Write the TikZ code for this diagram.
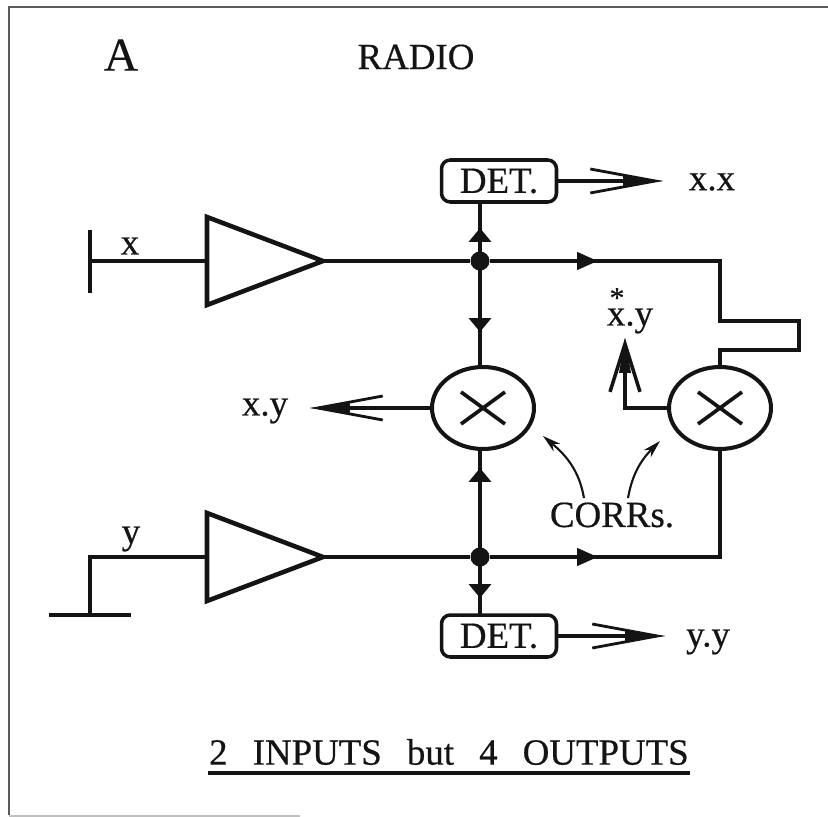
\documentclass[tikz,border=0pt]{standalone}
\usepackage{fontspec}
\setmainfont{Liberation Serif}[FakeBold=0.35]
\usetikzlibrary{arrows.meta,shapes.geometric}
\definecolor{scanInk}{HTML}{141414}
\definecolor{scanFrame}{HTML}{5A5A5A}
\tikzset{
  radio diagram/.style={x=0.02cm,y=-0.02cm,font=\fontsize{21}{25}\selectfont\addfontfeature{FakeBold=0.5},
    text=scanInk,draw=scanInk,line join=miter},
  radio wire/.style={draw=scanInk,line width=2.5pt},
  radio thin/.style={draw=scanInk,line width=2.1pt},
  radio frame/.style={draw=scanFrame,line width=1.4pt},
  radio amp/.style={isosceles triangle,isosceles triangle stretches,draw=scanInk,
    line width=2.6pt,minimum width=1.76cm,minimum height=2.32cm,inner sep=0pt,outer sep=0pt},
  radio corr/.style={ellipse,draw=scanInk,line width=2.3pt,minimum width=2.04cm,
    minimum height=1.64cm,inner sep=0pt,outer sep=0pt},
  radio det/.style={draw=scanInk,line width=2pt,rounded corners=5pt,minimum width=2.3cm,
    minimum height=0.84cm,inner sep=0pt,outer sep=0pt},
  radio dot/.style={circle,fill=scanInk,minimum size=0.38cm,inner sep=0pt},
  radio label/.style={inner sep=0pt},
  radio solid/.style={radio wire,-{Triangle[length=0.28cm,width=0.44cm,sep=0pt]}},
  radio solid long/.style={radio wire,-{Triangle[length=0.42cm,width=0.34cm,sep=0pt]}},
  radio open/.style={radio thin,-{Straight Barb[length=1.3cm,width=0.48cm,line width=1.6pt,sep=-0.8cm]
    Triangle[length=0.8cm,width=0.2cm,line width=0pt]}},
  radio open short/.style={radio wire,-{Straight Barb[length=0.96cm,width=0.6cm,line width=2pt,sep=-0.7cm]
    Triangle[length=0.7cm,width=0.24cm,line width=0pt]}},
  radio note/.style={draw=scanInk,line width=1.2pt,-{Stealth[length=0.36cm,width=0.2cm]}}
}
\begin{document}
\begin{tikzpicture}[radio diagram]
\useasboundingbox (0,0) rectangle (828,817);
% frame, cut off on the right
\draw[radio frame] (828,7) -- (9,7) -- (9,815);
\draw[draw=black!25,line width=1pt] (9,816) -- (300,816);
\node[radio label,font=\fontsize{27}{30}\selectfont\addfontfeature{FakeBold=0.35}] (mainA) at (121,55) {A};
\node[radio label] (mainRadio) at (416,57) {RADIO};
% front ends
\node[radio amp,anchor=apex] (ampX) at (323,261) {};
\node[radio amp,anchor=apex] (ampY) at (323,557) {};
\coordinate (aerialX) at (90,261);
\coordinate (aerialXtop) at (90,230);
\coordinate (aerialXbot) at (90,293);
\coordinate (aerialY) at (90,557);
\coordinate (groundY) at (90,615);
\coordinate (groundYl) at (49,615);
\coordinate (groundYr) at (131,615);
\draw[radio wire] (aerialXtop) -- (aerialXbot);
\draw[radio wire] (aerialX) -- (ampX.west);
\draw[radio wire] (ampY.west) -- (aerialY) -- (groundY);
\draw[radio wire] (groundYl) -- (groundYr);
\node[radio label] (labelX) at (130,246) {x};
\node[radio label] (labelY) at (131,539) {y};
% junctions, detectors, correlators
\node[radio dot] (jointX) at (480,261) {};
\node[radio dot] (jointY) at (480,557) {};
\node[radio det] (detX) at (499,181) {DET.};
\node[radio det] (detY) at (499,636) {DET.};
\node[radio corr] (corrL) at (483,408) {};
\node[radio corr] (corrR) at (720,408) {};
\foreach \c in {corrL,corrR} {
  \draw[radio thin] (\c.center) +(-22,-16) -- +(22,16);
  \draw[radio thin] (\c.center) +(-22,16) -- +(22,-16);
}
\coordinate (detXfoot) at (480,201);
\coordinate (detYhead) at (480,616);
\coordinate (corrLtop) at (480,367);
\coordinate (corrLbot) at (480,449);
\coordinate (tipXup) at (480,228);
\coordinate (tipXdown) at (480,332);
\coordinate (tipYup) at (480,468);
\coordinate (tipYdown) at (480,598);
\coordinate (tipXright) at (598,261);
\coordinate (tipYright) at (598,557);
\draw[radio wire] (ampX.apex) -- (jointX) -- (720,261) -- (720,321) -- (799,321) -- (799,350)
  -- (720,350) -- (corrR.north);
\draw[radio wire] (ampY.apex) -- (jointY) -- (720,557) -- (corrR.south);
\draw[radio wire] (detXfoot) -- (corrLtop);
\draw[radio wire] (corrLbot) -- (detYhead);
\draw[radio solid] (jointX) -- (tipXup);
\draw[radio solid] (jointX) -- (tipXdown);
\draw[radio solid] (jointY) -- (tipYup);
\draw[radio solid] (jointY) -- (tipYdown);
\draw[radio solid long] (jointX) -- (tipXright);
\draw[radio solid long] (jointY) -- (tipYright);
% outputs
\coordinate (outXX) at (663,181);
\coordinate (outYY) at (665,636);
\coordinate (outXY) at (310,408);
\coordinate (outConj) at (625,338);
\draw[radio open] (detX.east) -- (outXX);
\draw[radio open] (detY.east) -- (outYY);
\draw[radio open] (corrL.west) -- (outXY);
\draw[radio open short] (corrR.west) -- (625,408) -- (outConj);
\node[radio label] (labelXX) at (712,182) {x.x};
\node[radio label] (labelYY) at (708,642) {y.y};
\node[radio label] (labelXY) at (265,411) {x.y};
\node[radio label] (labelConj) at (630,321) {x.y};
\node[radio label,font=\fontsize{17}{20}\selectfont] (labelStar) at (617,298) {*};
% pointers
\node[radio label] (labelCorrs) at (612,515) {CORRs.};
\coordinate (noteL) at (584,498);
\coordinate (noteLtip) at (543,436);
\coordinate (noteR) at (628,498);
\coordinate (noteRtip) at (660,441);
\draw[radio note] (noteL) to[out=100,in=-40] (noteLtip);
\draw[radio note] (noteR) to[out=80,in=-135] (noteRtip);
% caption
\node[radio label] (caption) at (449,752) {\spaceskip=0.68em 2 INPUTS but 4 OUTPUTS};
\coordinate (ruleL) at (208,773);
\coordinate (ruleR) at (690,773);
\draw[draw=scanInk,line width=2.3pt] (ruleL) -- (ruleR);
\end{tikzpicture}
\end{document}
